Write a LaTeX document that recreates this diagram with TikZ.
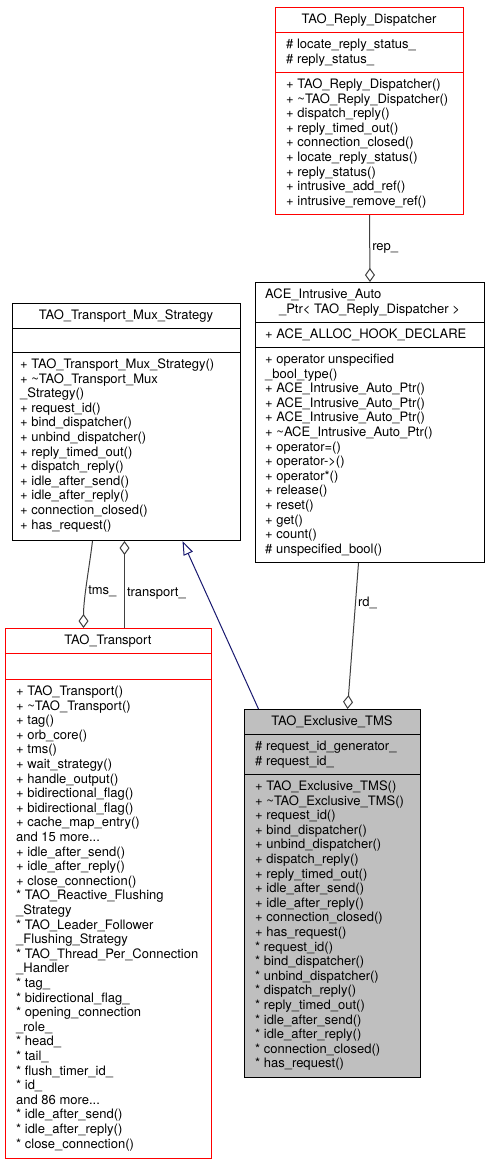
\documentclass[tikz,border=0pt]{standalone}
\usepackage{fontspec}
\setmainfont{TeX Gyre Heros}
\usepackage{tikz}
\usetikzlibrary{arrows.meta}
\definecolor{edgegray}{HTML}{404040}
\definecolor{inhblue}{HTML}{191970}
\definecolor{tmsfill}{HTML}{BFBFBF}
\newcommand{\umlfont}{\fontsize{13}{14.6}\selectfont}
\newcommand{\moredots}{...}
\tikzstyle{cls} = [draw, line width=1pt, anchor=north west, inner sep=0pt, fill=white]
\tikzstyle{mem} = [anchor=base west, inner sep=0pt, font=\umlfont]
\tikzstyle{ttl} = [anchor=base, inner sep=0pt, font=\umlfont]
\tikzstyle{lbl} = [right, inner sep=2pt, font=\umlfont, text=black]
\tikzstyle{agg} = [line width=1pt, edgegray, -{Diamond[open, length=14pt, width=10pt]}]
\tikzstyle{inh} = [line width=1pt, inhblue, -{Triangle[open, length=14pt, width=10pt]}]
\newcommand{\members}[4]{%
  \foreach \txt [count=\i from 0] in {#4} {
    \node[mem] (#1\i) at (#2, {#3+16.5+14.6*\i}) {\txt};
  }}

\begin{document}
\begin{tikzpicture}[x=1pt, y=-1pt]
 \useasboundingbox (0,0) rectangle (489,1165);
 \fill[white] (0,0) rectangle (489,1165);
 % TAO_Reply_Dispatcher
 \node[cls, draw=red, minimum width=188pt, minimum height=207pt] (rd) at (275,7) {};
 \draw[red, line width=1pt] (rd.west |- 0,32) -- (rd.east |- 0,32);
 \draw[red, line width=1pt] (rd.west |- 0,72) -- (rd.east |- 0,72);
 \node[ttl] (rdt) at (369,23.5) {TAO\_Reply\_Dispatcher};
 \members{rda}{286}{32}{{\# locate\_reply\_status\_},{\# reply\_status\_}}
 \members{rdm}{286}{72}{{+ TAO\_Reply\_Dispatcher()},{+ \textasciitilde TAO\_Reply\_Dispatcher()},
   {+ dispatch\_reply()},{+ reply\_timed\_out()},{+ connection\_closed()},
   {+ locate\_reply\_status()},{+ reply\_status()},{+ intrusive\_add\_ref()},
   {+ intrusive\_remove\_ref()}}
 % ACE_Intrusive_Auto_Ptr
 \node[cls, minimum width=229pt, minimum height=280pt] (ace) at (255,282) {};
 \draw[line width=1pt] (ace.west |- 0,322) -- (ace.east |- 0,322);
 \draw[line width=1pt] (ace.west |- 0,347) -- (ace.east |- 0,347);
 \node[mem] (acet1) at (265,298.5) {ACE\_Intrusive\_Auto};
 \node[ttl] (acet2) at (369.5,313.1) {\_Ptr< TAO\_Reply\_Dispatcher >};
 \members{acea}{265}{322}{{+ ACE\_ALLOC\_HOOK\_DECLARE}}
 \members{acem}{265}{347}{{+ operator unspecified},{\_bool\_type()},
   {+ ACE\_Intrusive\_Auto\_Ptr()},{+ ACE\_Intrusive\_Auto\_Ptr()},{+ ACE\_Intrusive\_Auto\_Ptr()},
   {+ \textasciitilde ACE\_Intrusive\_Auto\_Ptr()},{+ operator=()},{+ operator->()},
   {+ operator*()},{+ release()},{+ reset()},{+ get()},{+ count()},{\# unspecified\_bool()}}
 % TAO_Transport_Mux_Strategy
 \node[cls, minimum width=228pt, minimum height=237pt] (mux) at (12,303) {};
 \draw[line width=1pt] (mux.west |- 0,328) -- (mux.east |- 0,328);
 \draw[line width=1pt] (mux.west |- 0,352) -- (mux.east |- 0,352);
 \node[ttl] (muxt) at (126,319.5) {TAO\_Transport\_Mux\_Strategy};
 \members{muxm}{20}{352}{{+ TAO\_Transport\_Mux\_Strategy()},{+ \textasciitilde TAO\_Transport\_Mux},
   {\_Strategy()},{+ request\_id()},{+ bind\_dispatcher()},{+ unbind\_dispatcher()},
   {+ reply\_timed\_out()},{+ dispatch\_reply()},{+ idle\_after\_send()},
   {+ idle\_after\_reply()},{+ connection\_closed()},{+ has\_request()}}
 % TAO_Transport
 \node[cls, draw=red, minimum width=206pt, minimum height=530pt] (tr) at (5,628) {};
 \draw[red, line width=1pt] (tr.west |- 0,653) -- (tr.east |- 0,653);
 \draw[red, line width=1pt] (tr.west |- 0,679) -- (tr.east |- 0,679);
 \node[ttl] (trt) at (108,644.5) {TAO\_Transport};
 \members{trm}{16}{679}{{+ TAO\_Transport()},{+ \textasciitilde TAO\_Transport()},{+ tag()},
   {+ orb\_core()},{+ tms()},{+ wait\_strategy()},{+ handle\_output()},
   {+ bidirectional\_flag()},{+ bidirectional\_flag()},{+ cache\_map\_entry()},
   {and 15 more\moredots},{+ idle\_after\_send()},{+ idle\_after\_reply()},{+ close\_connection()},
   {* TAO\_Reactive\_Flushing},{\_Strategy},{* TAO\_Leader\_Follower},{\_Flushing\_Strategy},
   {* TAO\_Thread\_Per\_Connection},{\_Handler},{* tag\_},{* bidirectional\_flag\_},
   {* opening\_connection},{\_role\_},{* head\_},{* tail\_},{* flush\_timer\_id\_},{* id\_},
   {and 86 more\moredots},{* idle\_after\_send()},{* idle\_after\_reply()},{* close\_connection()}}
 % TAO_Exclusive_TMS
 \node[cls, fill=tmsfill, minimum width=176pt, minimum height=368pt] (tms) at (244,709) {};
 \draw[line width=1pt] (tms.west |- 0,734) -- (tms.east |- 0,734);
 \draw[line width=1pt] (tms.west |- 0,774) -- (tms.east |- 0,774);
 \node[ttl] (tmst) at (332,725.5) {TAO\_Exclusive\_TMS};
 \members{tmsa}{255}{734}{{\# request\_id\_generator\_},{\# request\_id\_}}
 \members{tmsm}{255}{774}{{+ TAO\_Exclusive\_TMS()},{+ \textasciitilde TAO\_Exclusive\_TMS()},
   {+ request\_id()},{+ bind\_dispatcher()},{+ unbind\_dispatcher()},{+ dispatch\_reply()},
   {+ reply\_timed\_out()},{+ idle\_after\_send()},{+ idle\_after\_reply()},
   {+ connection\_closed()},{+ has\_request()},{* request\_id()},{* bind\_dispatcher()},
   {* unbind\_dispatcher()},{* dispatch\_reply()},{* reply\_timed\_out()},
   {* idle\_after\_send()},{* idle\_after\_reply()},{* connection\_closed()},{* has\_request()}}
 % relations
 \draw[agg] (rd.south) -- (ace.north) node[lbl, pos=0.5] (lrep) {rep\_};
 \draw[agg] ([xshift=-11.5pt]ace.south) -- ([xshift=15pt]tms.north) node[lbl, pos=0.27] (lrd) {rd\_};
 \draw[agg] ([xshift=-34pt]mux.south) .. controls +(-3,25) and +(0,-30) .. ([xshift=-25pt]tr.north)
   node[lbl, pos=0.6] (ltms) {tms\_};
 \draw[agg] ([xshift=16pt]tr.north) -- ([xshift=-2pt]mux.south) node[lbl, pos=0.4] (ltr) {transport\_};
 \draw[inh] ([xshift=-74pt]tms.north) -- ([xshift=56pt]mux.south);
\end{tikzpicture}
\end{document}
